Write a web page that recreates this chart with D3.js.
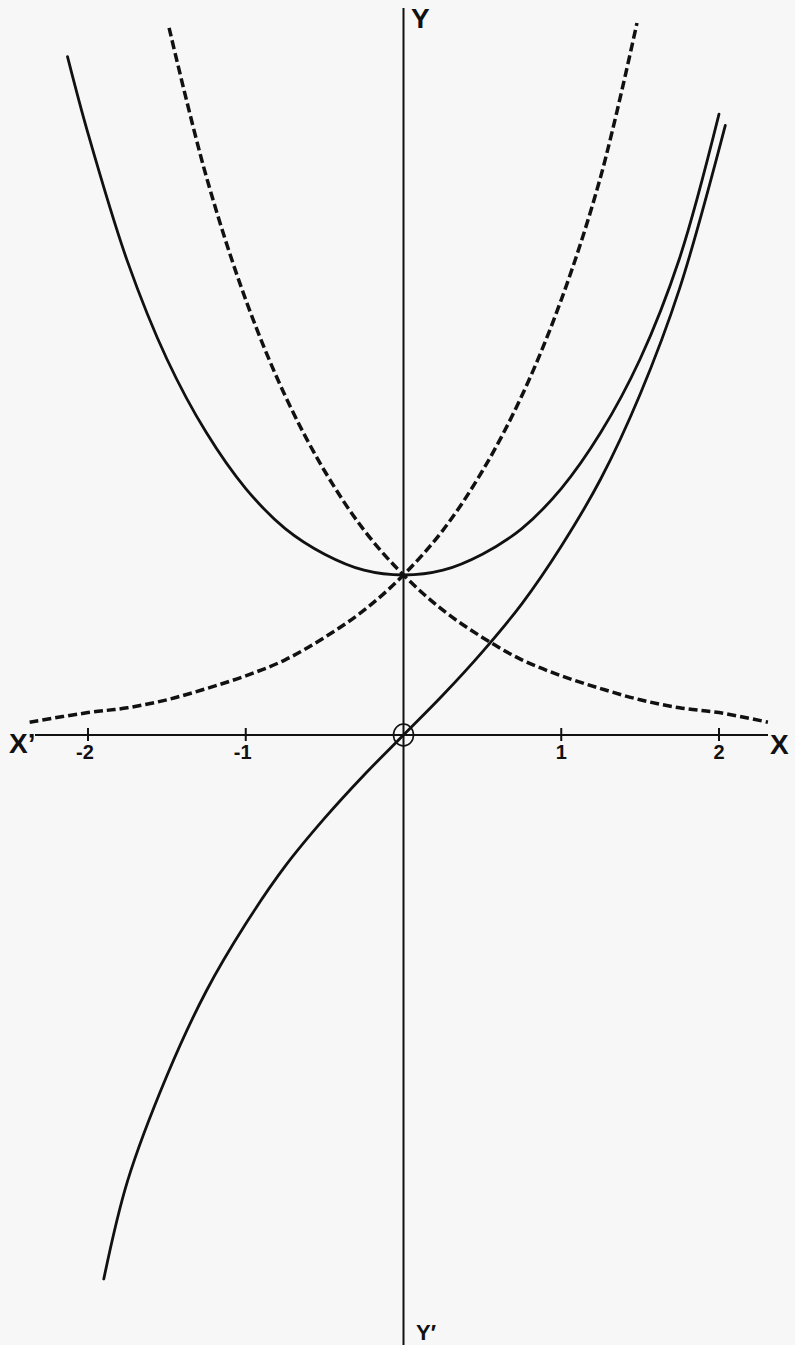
<!DOCTYPE html>
<html>
<head>
<meta charset="utf-8">
<script src="https://cdn.jsdelivr.net/npm/d3@7"></script>
<style>
  body { margin: 0; background: #f7f7f7; }
  svg { display: block; }
  text { font-family: "Liberation Sans", Arial, sans-serif; font-weight: bold; fill: #111; }
</style>
</head>
<body>
<div id="chart"></div>
<script>
// values
var coshX = [-2.13, -2, -1.75, -1.5, -1.25, -1, -0.75, -0.5, -0.25, 0, 0.25, 0.5, 0.75, 1, 1.25, 1.5, 1.75, 2.0];
var coshY = [4.24, 3.76, 2.96, 2.35, 1.89, 1.54, 1.29, 1.13, 1.03, 1.00, 1.03, 1.13, 1.29, 1.54, 1.89, 2.35, 2.98, 3.88];

var sinhX = [-1.90, -1.75, -1.5, -1.25, -1, -0.75, -0.5, -0.25, 0, 0.25, 0.5, 0.75, 1, 1.25, 1.5, 1.75, 2.04];
var sinhY = [-3.40, -2.79, -2.13, -1.60, -1.18, -0.82, -0.52, -0.25, 0, 0.25, 0.52, 0.82, 1.18, 1.60, 2.13, 2.79, 3.81];

var expX = [-2.37, -2, -1.75, -1.5, -1.25, -1, -0.75, -0.5, -0.25, 0, 0.25, 0.5, 0.75, 1, 1.25, 1.48];
var expY = [0.08, 0.14, 0.17, 0.22, 0.29, 0.37, 0.47, 0.61, 0.78, 1.00, 1.28, 1.65, 2.12, 2.72, 3.49, 4.45];

var expNegX = [-1.486, -1.25, -1, -0.75, -0.5, -0.25, 0, 0.25, 0.5, 0.75, 1, 1.25, 1.5, 1.75, 2, 2.31];
var expNegY = [4.42, 3.49, 2.72, 2.12, 1.65, 1.28, 1.00, 0.78, 0.61, 0.47, 0.37, 0.29, 0.22, 0.17, 0.14, 0.08];

var tickValues = [-2, -1, 1, 2];
var tickLabels = ["-2", "-1", "1", "2"];

var width = 795, height = 1345;

var x = d3.scaleLinear().domain([-2, 2]).range([88, 719]);
var y = d3.scaleLinear().domain([0, 1]).range([735, 575]);

var svg = d3.select("#chart").append("svg")
    .attr("width", width)
    .attr("height", height);

svg.append("rect").attr("width", width).attr("height", height).attr("fill", "#f7f7f7");

// axes
svg.append("line")
    .attr("x1", 35).attr("x2", 768)
    .attr("y1", y(0)).attr("y2", y(0))
    .attr("stroke", "#111").attr("stroke-width", 2);

svg.append("line")
    .attr("x1", x(0)).attr("x2", x(0))
    .attr("y1", 8).attr("y2", height)
    .attr("stroke", "#111").attr("stroke-width", 2);

svg.selectAll(".tick")
    .data(tickValues)
  .enter().append("line")
    .attr("class", "tick")
    .attr("x1", function(d) { return x(d); })
    .attr("x2", function(d) { return x(d); })
    .attr("y1", y(0) - 7)
    .attr("y2", y(0) + 6)
    .attr("stroke", "#111").attr("stroke-width", 2);

svg.selectAll(".tlabel")
    .data(tickValues)
  .enter().append("text")
    .attr("class", "tlabel")
    .attr("x", function(d) { return x(d) + (d < 0 ? -3 : 0); })
    .attr("y", y(0) + 24)
    .attr("text-anchor", "middle")
    .attr("font-size", 20)
    .text(function(d, i) { return tickLabels[i]; });

// origin ring
svg.append("ellipse")
    .attr("cx", x(0)).attr("cy", y(0))
    .attr("rx", 10).attr("ry", 11)
    .attr("fill", "none").attr("stroke", "#111").attr("stroke-width", 1.6);

// axis letters
svg.append("text").attr("x", 9).attr("y", 753).attr("font-size", 28).text("X\u2019");
svg.append("text").attr("x", 770).attr("y", 754).attr("font-size", 28).text("X");
svg.append("text").attr("x", 411).attr("y", 28).attr("font-size", 28).text("Y");
svg.append("text").attr("x", 416).attr("y", 1340).attr("font-size", 22).text("Y\u2032");

// curves
var line = d3.line()
    .x(function(d) { return x(d[0]); })
    .y(function(d) { return y(d[1]); })
    .curve(d3.curveCatmullRom.alpha(0.5));

function pts(xs, ys) { return xs.map(function(v, i) { return [v, ys[i]]; }); }

svg.append("path").datum(pts(expX, expY))
    .attr("d", line).attr("fill", "none")
    .attr("stroke", "#111").attr("stroke-width", 3.5)
    .attr("stroke-dasharray", "9,4");

svg.append("path").datum(pts(expNegX, expNegY))
    .attr("d", line).attr("fill", "none")
    .attr("stroke", "#111").attr("stroke-width", 3.5)
    .attr("stroke-dasharray", "9,4");

svg.append("path").datum(pts(coshX, coshY))
    .attr("d", line).attr("fill", "none")
    .attr("stroke", "#111").attr("stroke-width", 2.8)
    .attr("stroke-linecap", "round");

svg.append("path").datum(pts(sinhX, sinhY))
    .attr("d", line).attr("fill", "none")
    .attr("stroke", "#111").attr("stroke-width", 2.8)
    .attr("stroke-linecap", "round");
</script>
</body>
</html>
